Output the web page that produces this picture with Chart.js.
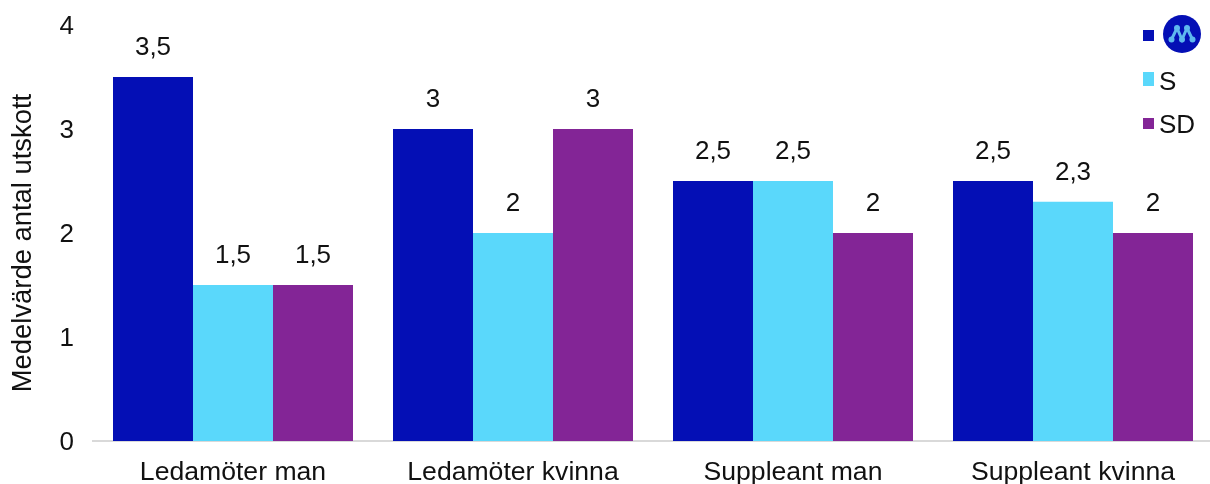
<!DOCTYPE html>
<html>
<head>
<meta charset="utf-8">
<style>
  html, body { margin: 0; padding: 0; background: #fff; overflow: hidden; }
  #wrap { position: relative; width: 1213px; height: 484px; }
</style>
<script src="https://cdn.jsdelivr.net/npm/chart.js@4/dist/chart.umd.js"></script>
</head>
<body>
<div id="wrap"><canvas id="chartCanvas" width="1213" height="484"></canvas></div>
<script>
const categories = ["Ledamöter man", "Ledamöter kvinna", "Suppleant man", "Suppleant kvinna"];
const partyM = [3.5, 3, 2.5, 2.5];
const partyS = [1.5, 2, 2.5, 2.3];
const partySD = [1.5, 3, 2, 2];
const yTicks = [0, 1, 2, 3, 4];
const yTitle = "Medelvärde antal utskott";

const fontFamily = "'Liberation Sans', Arial, sans-serif";
const textColor = "#111111";
const fontSize = 26;

// Value labels above the bars, decimal comma as in the original
const barLabels = {
  id: "barLabels",
  afterDatasetsDraw(chart) {
    const c = chart.ctx;
    c.save();
    c.font = fontSize + "px " + fontFamily;
    c.fillStyle = textColor;
    c.textAlign = "center";
    c.textBaseline = "middle";
    chart.data.datasets.forEach((ds, i) => {
      chart.getDatasetMeta(i).data.forEach((bar, j) => {
        c.fillText(String(ds.data[j]).replace(".", ","), bar.x, bar.y - 29);
      });
    });
    c.restore();
  },
};

// Axis title sits lower than the plot centre in the original, so it is placed by hand
const axisTitle = {
  id: "axisTitle",
  afterDraw(chart) {
    const c = chart.ctx;
    c.save();
    c.translate(23, 243);
    c.rotate(-Math.PI / 2);
    c.font = "27.4px " + fontFamily;
    c.fillStyle = textColor;
    c.textAlign = "center";
    c.textBaseline = "middle";
    c.fillText(yTitle, 0, 0);
    c.restore();
  },
};

// Legend: first entry is the party logo, the others are plain text
const sideLegend = {
  id: "sideLegend",
  afterDraw(chart) {
    const c = chart.ctx;
    const rows = [35.5, 79, 123.5];
    const heights = [11, 14, 11];
    const textY = [0, 83, 126];
    c.save();
    chart.data.datasets.forEach((ds, i) => {
      c.fillStyle = ds.backgroundColor;
      c.fillRect(1143, rows[i] - heights[i] / 2, 11, heights[i]);
      if (ds.label) {
        c.font = fontSize + "px " + fontFamily;
        c.fillStyle = textColor;
        c.textAlign = "left";
        c.textBaseline = "middle";
        c.fillText(ds.label, 1159, textY[i]);
      }
    });

    c.fillStyle = "#040fb5";
    c.beginPath();
    c.arc(1182, 34, 19, 0, Math.PI * 2);
    c.fill();
    const top = [[1177, 28], [1187, 28]];
    const bottom = [[1171.5, 39.5], [1182, 39.5], [1192.5, 39.5]];
    c.strokeStyle = "#5fb8ee";
    c.fillStyle = "#5fb8ee";
    c.lineWidth = 3;
    c.beginPath();
    c.moveTo(bottom[0][0], bottom[0][1]);
    c.lineTo(top[0][0], top[0][1]);
    c.lineTo(bottom[1][0], bottom[1][1]);
    c.lineTo(top[1][0], top[1][1]);
    c.lineTo(bottom[2][0], bottom[2][1]);
    c.stroke();
    top.concat(bottom).forEach((p) => {
      c.beginPath();
      c.arc(p[0], p[1], 3, 0, Math.PI * 2);
      c.fill();
    });
    c.restore();
  },
};

let ctx = document.getElementById("chartCanvas").getContext("2d");

new Chart(ctx, {
  type: "bar",
  data: {
    labels: categories,
    datasets: [
      { label: "", data: partyM, backgroundColor: "#040fb5" },
      { label: "S", data: partyS, backgroundColor: "#5ad8fb" },
      { label: "SD", data: partySD, backgroundColor: "#832596" },
    ],
  },
  options: {
    responsive: false,
    animation: false,
    layout: { padding: { top: 25, bottom: 0, left: 0, right: 0 } },
    datasets: { bar: { categoryPercentage: 240 / 280, barPercentage: 1 } },
    scales: {
      x: {
        grid: { display: false, drawTicks: false },
        border: { display: true, color: "#d9d9d9", width: 2 },
        ticks: {
          color: textColor,
          font: { family: fontFamily, size: 26.6 },
          padding: 16,
          maxRotation: 0,
        },
        afterFit(scale) {
          scale.height = 43;
        },
      },
      y: {
        min: 0,
        max: 4,
        afterBuildTicks(scale) {
          scale.ticks = yTicks.map((v) => ({ value: v }));
        },
        grid: { display: false, drawTicks: false },
        border: { display: false },
        ticks: {
          color: textColor,
          font: { family: fontFamily, size: fontSize },
          padding: 19,
          labelOffset: 1.5,
        },
        afterFit(scale) {
          scale.width = 93;
          // tick padding would otherwise push the plot top down
          scale.paddingTop = 0;
          scale.paddingBottom = 0;
        },
      },
    },
    plugins: {
      legend: { display: false },
      tooltip: { enabled: false },
    },
  },
  plugins: [barLabels, axisTitle, sideLegend],
});
</script>
</body>
</html>
